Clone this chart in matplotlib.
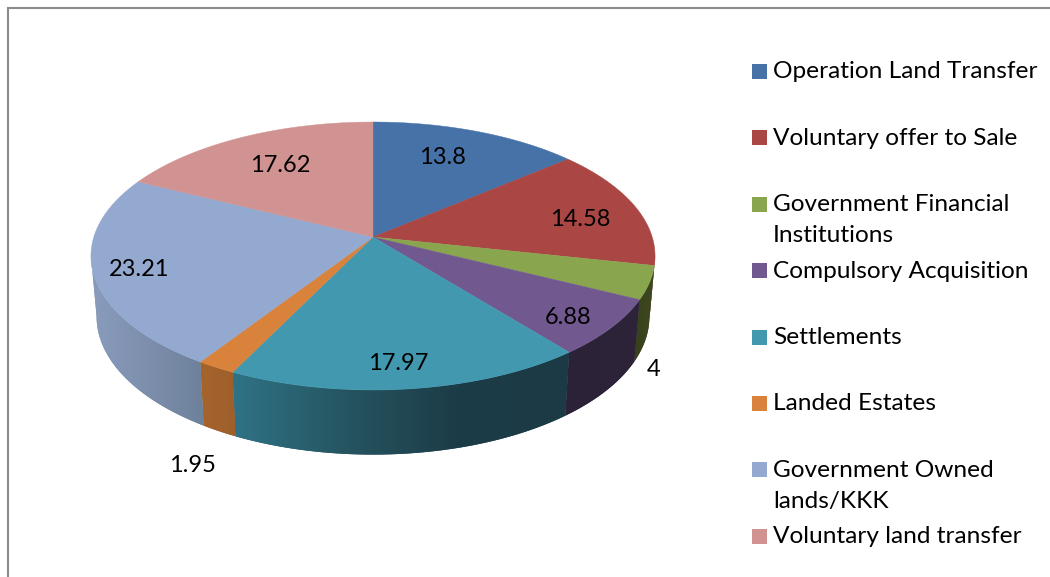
import numpy as np
import matplotlib
matplotlib.use('Agg')
import matplotlib.pyplot as plt
from matplotlib.colors import LinearSegmentedColormap
from matplotlib.patches import Polygon

plt.rcParams['font.family'] = ['Lato', 'DejaVu Sans']

categories = ['Operation Land Transfer', 'Voluntary offer to Sale',
              'Government Financial\nInstitutions', 'Compulsory Acquisition',
              'Settlements', 'Landed Estates',
              'Government Owned\nlands/KKK', 'Voluntary land transfer']
values = [13.8, 14.58, 4, 6.88, 17.97, 1.95, 23.21, 17.62]
value_labels = ['13.8', '14.58', '4', '6.88', '17.97', '1.95', '23.21', '17.62']

colors = ['#4672A8', '#AA4644', '#89A54E', '#71588F', '#4198AF', '#D8823C', '#93A9CF', '#D19392']
# side wall shading, left to right across each wedge
wall_colors = [['#34557D', '#34557D'], ['#7F3432', '#7F3432'],
               ['#36401C', '#3F4A20'], ['#2C2238', '#2E2439'],
               ['#2F7386', '#255561', '#1C3C47', '#1B3A46'], ['#A6642D', '#9E5F2B'],
               ['#8A9CBC', '#6E819B'], ['#9C6E6D', '#9C6E6D']]

label_pos = [(442, 158), (580, 219), (654, 370), (568, 317),
             (398, 364), (192, 465), (139, 270), (280, 165)]

# pie geometry in pixels, k is the perspective tilt
cx, cy = 373, 237
a, b, k = 131.3, 279.2, 0.1418
drop, sx, sy = 60, 0.98, 1.03


def top_rim(t):
    x, y = np.sin(t), np.cos(t)
    w = 1 + k * y
    return cx + b * x / w, cy - a * y / w


def bottom_rim(t):
    x, y = np.sin(t), np.cos(t)
    w = 1 + k * y
    return cx + sx * b * x / w, cy + drop - sy * a * y / w


fig = plt.figure(figsize=(10.5, 5.77), dpi=100)
ax = fig.add_axes([0, 0, 1, 1])

# chart border
ax.plot([8, 8, 1050], [577, 7.5, 7.5], color='#8C8C8C', lw=1.5, solid_joinstyle='miter')

edges = np.radians(np.cumsum([0] + values) / sum(values) * 360)

# side walls: gradient image clipped to each wall outline
vis_start, vis_end = np.radians(98), np.radians(262)
for i in range(len(values)):
    t0, t1 = max(edges[i], vis_start), min(edges[i + 1], vis_end)
    if t1 <= t0:
        continue
    ts = np.linspace(t0, t1, 80)
    xt, yt = top_rim(ts)
    xb, yb = bottom_rim(ts)
    outline = np.column_stack([np.r_[xt, xb[::-1]], np.r_[yt, yb[::-1]]])
    cmap = LinearSegmentedColormap.from_list('wall%d' % i, wall_colors[i])
    # soft edge underneath, the image clip itself is not antialiased
    ax.add_patch(Polygon(outline, closed=True, facecolor=cmap(0.5), edgecolor='none', zorder=1))
    clip = Polygon(outline, closed=True, facecolor='none', edgecolor='none', zorder=1)
    ax.add_patch(clip)
    grad = np.linspace(0, 1, 256).reshape(1, -1)
    im = ax.imshow(grad, cmap=cmap, aspect='auto', interpolation='bilinear', zorder=1.5,
                   extent=(outline[:, 0].min(), outline[:, 0].max(),
                           outline[:, 1].max(), outline[:, 1].min()))
    im.set_clip_path(clip)

# top face
for i in range(len(values)):
    ts = np.linspace(edges[i], edges[i + 1], 120)
    xt, yt = top_rim(ts)
    ax.fill(np.r_[cx, xt], np.r_[cy, yt], color=colors[i], lw=0.3, zorder=2)

for txt, (px, py) in zip(value_labels, label_pos):
    ax.text(px, py, txt, ha='center', va='center', fontsize=17, color='black', zorder=3)

# legend by hand because the rows have uneven heights
for i, name in enumerate(categories):
    ly = 71.5 + i * 66.4
    ax.fill([752, 767, 767, 752], [ly - 7.5, ly - 7.5, ly + 7.5, ly + 7.5], color=colors[i], lw=0)
    ax.text(773, ly - 10, name, ha='left', va='top', fontsize=17.6, color='black', linespacing=1.6)

ax.set_xlim(0, 1050)
ax.set_ylim(577, 0)
ax.axis('off')

fig.savefig('out.png', dpi=100)
